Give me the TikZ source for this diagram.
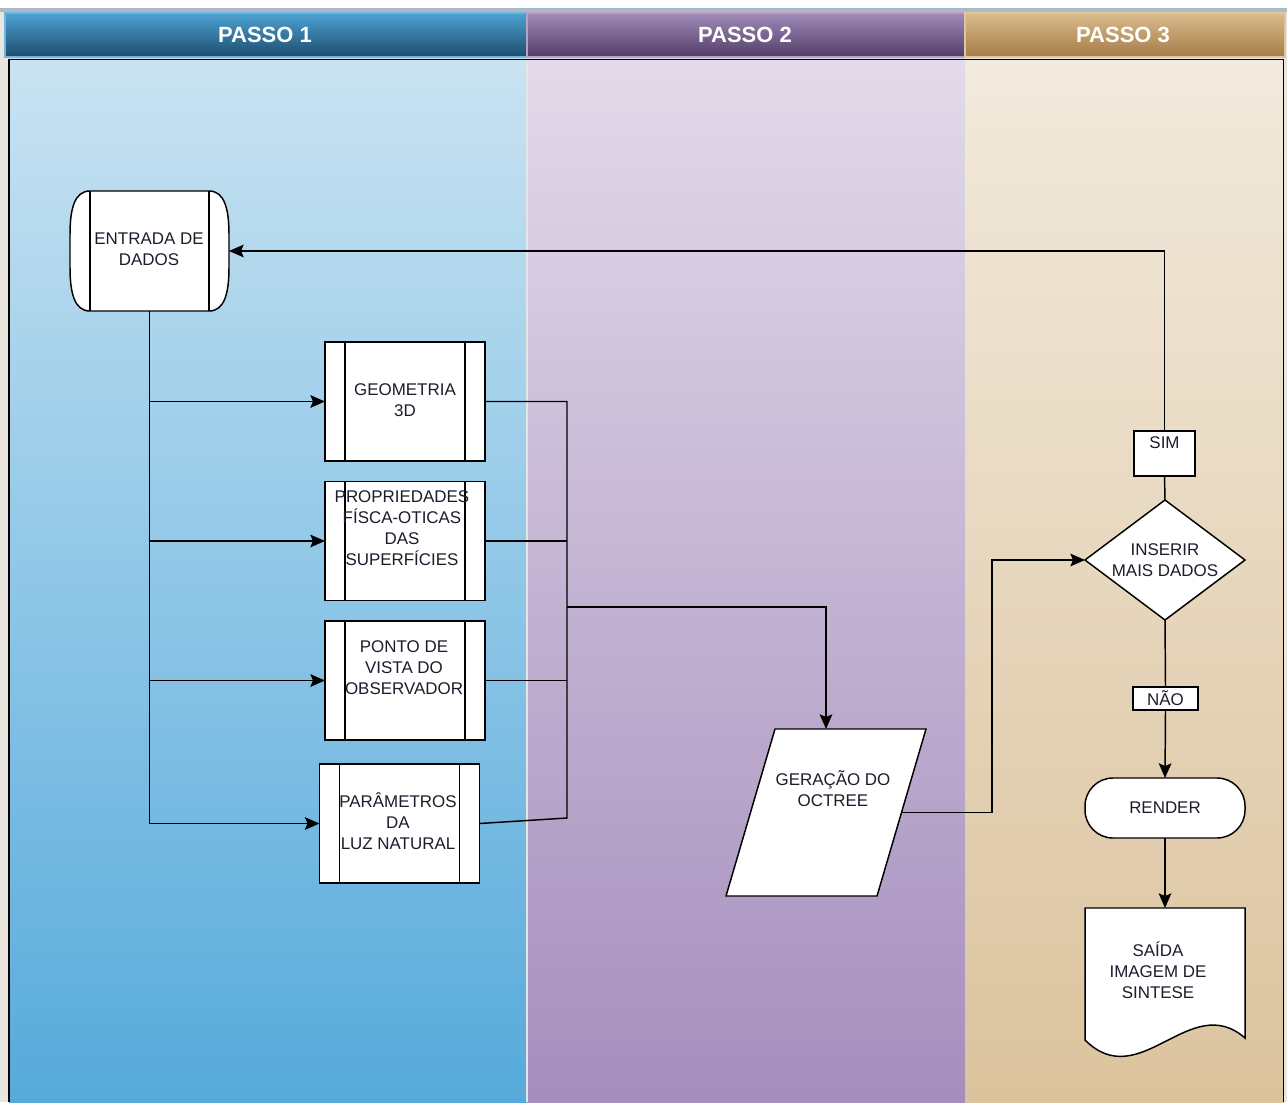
\documentclass[tikz,border=0pt]{standalone}
\usepackage{fontspec}
\setmainfont{Liberation Sans}
\usetikzlibrary{arrows.meta,shapes.geometric,calc}

\definecolor{pageback}{HTML}{E9E6DF}
\definecolor{topline}{HTML}{9DBBD8}
\definecolor{hdblueA}{HTML}{4DA2D3}
\definecolor{hdblueB}{HTML}{1D4D6E}
\definecolor{hdpurpA}{HTML}{A18BB9}
\definecolor{hdpurpB}{HTML}{523D67}
\definecolor{hdtanA}{HTML}{DABB8F}
\definecolor{hdtanB}{HTML}{A57D45}
\definecolor{lnblueA}{HTML}{C9E3F2}
\definecolor{lnblueB}{HTML}{56AADB}
\definecolor{lnpurpA}{HTML}{E2DAE9}
\definecolor{lnpurpB}{HTML}{A58EBD}
\definecolor{lntanA}{HTML}{F2EADD}
\definecolor{lntanB}{HTML}{DBC39D}
\definecolor{inkdark}{HTML}{1C1C2C}

\newcommand\bodyfont{\fontsize{12.7}{15.75}\selectfont}
\newcommand\headfont{\fontsize{16.5}{19}\selectfont\bfseries}

\begin{document}
\begin{tikzpicture}[x=0.75pt,y=-0.75pt,
  line width=1.1pt,
  txt/.style={inner sep=0pt, align=center, font=\bodyfont, text=inkdark},
  headtxt/.style={inner sep=0pt, font=\headfont, text=white},
  frame/.style={draw=black, fill=white, line width=1.1pt},
  ghost/.style={inner sep=0pt, outer sep=0pt, draw=none},
  procbox/.style={frame, inner sep=0pt, outer sep=0pt,
    minimum width=120pt, minimum height=89.5pt,
    path picture={
      \draw[line width=1.1pt] ([xshift=15pt]path picture bounding box.north west)
        -- ([xshift=15pt]path picture bounding box.south west);
      \draw[line width=1.1pt] ([xshift=-15pt]path picture bounding box.north east)
        -- ([xshift=-15pt]path picture bounding box.south east);}},
  link/.style={draw=black, line width=1.1pt},
  arrow/.style={link, -{Stealth[length=11pt,width=9.5pt,inset=2pt]}}]

\useasboundingbox (0,0) rectangle (1287,1102);

% page and title strip
\fill[pageback] (0,0) rectangle (1287,1102);
\fill[white] (0,0) rectangle (1287,8);
\fill[topline] (0,8) rectangle (1287,10.5);
\fill[gray!55] (0,10.5) rectangle (1287,12);

% lane headers
\shade[top color=hdblueA, bottom color=hdblueB] (5,13) rectangle (527,57);
\shade[top color=hdpurpA, bottom color=hdpurpB] (527,13) rectangle (965,57);
\shade[top color=hdtanA, bottom color=hdtanB] (965,13) rectangle (1285,57);
\draw[hdblueA!80!white, line width=0.8pt] (5,13) rectangle (527,57);
\draw[hdpurpA!80!white, line width=0.8pt] (527,13) rectangle (965,57);
\draw[hdtanA!85!white, line width=0.8pt] (965,13) rectangle (1285,57);
\node[headtxt] (head1) at (265,35) {PASSO 1};
\node[headtxt] (head2) at (745,35) {PASSO 2};
\node[headtxt] (head3) at (1123,35) {PASSO 3};

% lane bodies
\shade[top color=lnblueA, bottom color=lnblueB] (9,59) rectangle (527,1102);
\shade[top color=lnpurpA, bottom color=lnpurpB] (527,59) rectangle (965,1102);
\shade[top color=lntanA, bottom color=lntanB] (965,59) rectangle (1283.5,1102);
\draw[white!80!gray, line width=0.8pt] (527,59) -- (527,1102);
\draw[black, line width=1.3pt] (9,1102) -- (9,59.5) -- (1283.5,59.5) -- (1283.5,1102);

% ---- step 1 ----
\node[ghost, minimum width=119.25pt, minimum height=90pt] (entrada) at (149.5,251) {};
\draw[frame] (90,191) -- (209,191)
  .. controls (225,191) and (229,210) .. (229,235) -- (229,267)
  .. controls (229,292) and (225,311) .. (209,311) -- (90,311)
  .. controls (74,311) and (70,292) .. (70,267) -- (70,235)
  .. controls (70,210) and (74,191) .. (90,191) -- cycle;
\draw[line width=1.1pt] (90,191) -- (90,311) (209,191) -- (209,311);
\node[txt] (entrada-t) at (149,249.5) {ENTRADA DE\\DADOS};

\node[procbox] (geo) at (405,401.5) {};
\node[txt] (geo-t) at (405,400.5) {GEOMETRIA\\3D};
\node[procbox] (prop) at (405,541) {};
\node[txt] (prop-t) at (402,528.5) {PROPRIEDADES\\FÍSCA-OTICAS\\DAS\\SUPERFÍCIES};
\node[procbox] (ponto) at (405,680.5) {};
\node[txt] (ponto-t) at (404,668) {PONTO DE\\VISTA DO\\OBSERVADOR};
\node[procbox] (param) at (399.5,823.5) {};
\node[txt] (param-t) at (398,821) {PARÂMETROS\\DA\\LUZ NATURAL};

% feed lines from the data entry
\draw[arrow] (entrada.south) |- (param.west);
\draw[arrow] (entrada.south |- geo.west) -- (geo.west);
\draw[arrow] (entrada.south |- prop.west) -- (prop.west);
\draw[arrow] (entrada.south |- ponto.west) -- (ponto.west);

% collecting bus
\coordinate (bustop) at (567,401.5);
\coordinate (busbot) at (567,818);
\coordinate (bus) at (567,607);
\draw[link] (geo.east) -- (bustop) -- (busbot) -- (param.east);
\draw[link] (prop.east) -- (prop.east -| bustop);
\draw[link] (ponto.east) -- (ponto.east -| bustop);

% ---- step 2 ----
\node[ghost, minimum width=150pt, minimum height=125.25pt] (gera) at (826,812.5) {};
\draw[frame] ([xshift=36.75pt]gera.north west) -- (gera.north east)
  -- ([xshift=-36.75pt]gera.south east) -- (gera.south west) -- cycle;
\coordinate (gera-out) at ([xshift=-18.4pt]gera.east);
\node[txt] (gera-t) at (833,789) {GERAÇÃO DO\\OCTREE};
\draw[arrow] (bus) -| (gera.north);

% ---- step 3 ----
\node[frame, diamond, aspect=1.33, inner sep=0pt, outer sep=0pt,
  minimum width=120pt, minimum height=90pt, txt] (ins) at (1165,560)
  {INSERIR\\MAIS DADOS};
\node[frame, inner sep=0pt, outer sep=0pt, minimum width=45.75pt, minimum height=33.75pt] (sim) at (1164.5,453.5) {};
\node[txt] (sim-t) at (1164.5,443) {SIM};
\node[frame, txt, outer sep=0pt, minimum width=48.75pt, minimum height=17.25pt] (nao) at (1165.5,698.5) {NÃO};
\node[frame, txt, outer sep=0pt, rounded corners=21pt, minimum width=120pt, minimum height=45pt] (render) at (1165,808) {RENDER};

\node[ghost, minimum width=120pt, minimum height=99pt] (saida) at (1165,974) {};
\draw[frame] (saida.north west) -- (saida.north east) -- (1245,1038)
  .. controls (1190,990) and (1140,1095) .. (1085,1040) -- cycle;
\node[txt] (saida-t) at (1158,970) {SAÍDA\\IMAGEM DE\\SINTESE};

\coordinate (jog) at (992,560);
\draw[arrow] (gera-out) -| (jog) -- (ins.west);
\draw[link] (ins.north) -- (sim.south);
\draw[arrow] (sim.north) |- (entrada.east);
\draw[link] (ins.south) -- (nao.north);
\draw[arrow] (nao.south) -- (render.north);
\draw[arrow] (render.south) -- (saida.north);

\end{tikzpicture}
\end{document}
